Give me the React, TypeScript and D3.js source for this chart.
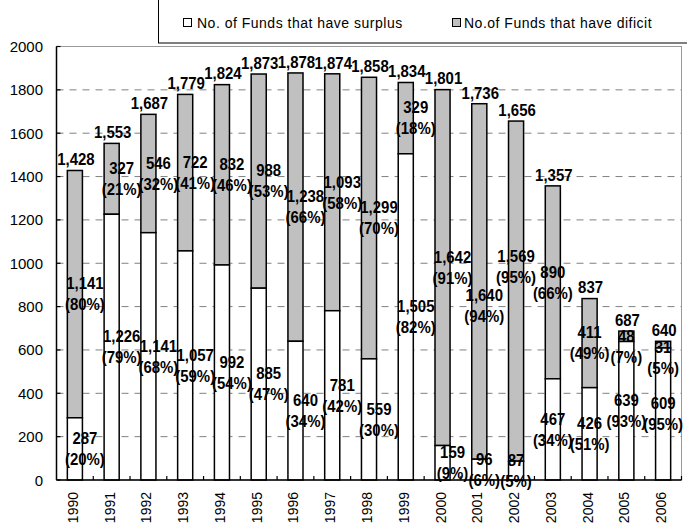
import React, { useEffect } from "react";
import * as d3 from "d3";

const years = ["1990", "1991", "1992", "1993", "1994", "1995", "1996", "1997", "1998", "1999", "2000", "2001", "2002", "2003", "2004", "2005", "2006"];
const surplus = [287, 1226, 1141, 1057, 992, 885, 640, 781, 559, 1505, 159, 96, 87, 467, 426, 639, 609];
const deficit = [1141, 327, 546, 722, 832, 988, 1238, 1093, 1299, 329, 1642, 1640, 1569, 890, 411, 48, 31];
const yTicks = [0, 200, 400, 600, 800, 1000, 1200, 1400, 1600, 1800, 2000];
const legendLabels = ["No. of Funds that have surplus", "No.of Funds that have dificit"];

const W = 687;
const H = 531;
const plot = { left: 56.5, right: 681.5, top: 46.5, bottom: 480 };
const GRAY = "#c0c0c0";
const LABEL_FONT = "'Liberation Sans', Arial, sans-serif";
const LABEL_SIZE = 17;
const LABEL_SCALE = 0.88;
const LINE_GAP = 21;
// value labels sit a little right of the bar on the left part of the chart
const labelShift = (i: number) => (i < 11 ? 10 : i === 11 ? 5 : 0);

const fmt = d3.format(",");

// rough bold glyph widths (em) for the label characters
const charW = (c: string) => (c === "," ? 0.278 : c === "(" || c === ")" ? 0.333 : c === "%" ? 0.889 : 0.556);
const textW = (s: string) => s.split("").reduce((a, c) => a + charW(c), 0) * LABEL_SIZE * LABEL_SCALE;

type Box = { x0: number; x1: number; y0: number; y1: number };
const hit = (a: Box, b: Box) => a.x0 < b.x1 && b.x0 < a.x1 && a.y0 < b.y1 && b.y0 < a.y1;

const BoldLabel = ({ x, y, lines }: { x: number; y: number; lines: string[] }) => (
  <g transform={`translate(${x},${y}) scale(${LABEL_SCALE},1)`}>
    {lines.map((t, i) => (
      <text
        key={i}
        x={0}
        y={(i - (lines.length - 1) / 2) * LINE_GAP}
        textAnchor="middle"
        dominantBaseline="central"
        fontFamily={LABEL_FONT}
        fontWeight="bold"
        fontSize={LABEL_SIZE}
        fill="#000"
      >
        {t}
      </text>
    ))}
  </g>
);

export default function App() {
  useEffect(() => {
    document.body.style.margin = "0";
  }, []);

  const x = d3.scaleBand<string>().domain(years).range([plot.left, plot.right]).padding(0);
  const y = d3.scaleLinear().domain([0, 2000]).range([plot.bottom, plot.top]);
  const step = x.step();
  const barW = step * 0.41;

  const rows = years.map((yr, i) => {
    const total = surplus[i] + deficit[i];
    const cx = (x(yr) as number) + step / 2;
    return {
      yr,
      s: surplus[i],
      d: deficit[i],
      total,
      cx,
      totalY: y(total) - 11,
      sLines: [fmt(surplus[i]), `(${Math.round((surplus[i] / total) * 100)}%)`],
      dLines: [fmt(deficit[i]), `(${Math.round((deficit[i] / total) * 100)}%)`],
    };
  });

  // place the two-line labels, nudging them up/down until they clear the others
  // (a few px of side contact is allowed, as in the original)
  const slack = 3;
  const placed: Box[] = rows.map((r) => {
    const hw = textW(fmt(r.total)) / 2 - slack;
    return { x0: r.cx + 1 - hw, x1: r.cx + 1 + hw, y0: r.totalY - 8, y1: r.totalY + 8 };
  });
  const place = (lx: number, cy: number, lines: string[], minY: number) => {
    const hw = Math.max(...lines.map(textW)) / 2 - slack;
    const boxAt = (c: number): Box => ({ x0: lx - hw, x1: lx + hw, y0: c - 18, y1: c + 18 });
    let c = Math.max(cy, minY);
    for (let k = 0; k <= 40; k++) {
      const dy = k === 0 ? 0 : (k % 2 ? -1 : 1) * Math.ceil(k / 2) * 4;
      const cand = Math.max(c + dy, minY);
      if (cand + 18 > H - 2) continue;
      const b = boxAt(cand);
      if (!placed.some((p) => hit(p, b))) {
        c = cand;
        break;
      }
    }
    placed.push(boxAt(c));
    return c;
  };
  const labels = rows.map((r, i) => {
    const lx = r.cx + labelShift(i);
    const defY = place(lx, y(r.s + r.d / 2), r.dLines, r.totalY + 27);
    const surY = place(lx, y(r.s / 2), r.sLines, defY + 38);
    return { lx, defY, surY };
  });

  return (
    <svg width={W} height={H} style={{ display: "block", background: "#fff" }}>
      {/* plot border */}
      <rect x={plot.left} y={plot.top} width={plot.right - plot.left} height={plot.bottom - plot.top} fill="#fff" stroke="#999" strokeWidth={1} />

      {/* gridlines */}
      {yTicks.filter((t) => t > 0 && t < 2000).map((t) => (
        <line key={t} x1={plot.left} x2={plot.right} y1={y(t)} y2={y(t)} stroke="#808080" strokeWidth={1} strokeDasharray="7,6" />
      ))}

      {/* bars */}
      {rows.map((r) => (
        <g key={r.yr}>
          <rect x={r.cx - barW / 2} y={y(r.total)} width={barW} height={y(r.s) - y(r.total)} fill={GRAY} stroke="#000" strokeWidth={1.5} />
          <rect x={r.cx - barW / 2} y={y(r.s)} width={barW} height={y(0) - y(r.s)} fill="#fff" stroke="#000" strokeWidth={1.5} />
        </g>
      ))}

      {/* axes */}
      <line x1={plot.left} x2={plot.left} y1={plot.top} y2={plot.bottom} stroke="#000" strokeWidth={1.5} />
      <line x1={plot.left} x2={plot.right} y1={plot.bottom} y2={plot.bottom} stroke="#000" strokeWidth={1.5} />
      {yTicks.map((t) => (
        <g key={t}>
          <line x1={plot.left} x2={plot.left + 4} y1={y(t)} y2={y(t)} stroke="#000" strokeWidth={1.2} />
          <text x={43} y={y(t)} textAnchor="end" dominantBaseline="central" fontFamily={LABEL_FONT} fontSize={15} fill="#000">
            {t}
          </text>
        </g>
      ))}
      {years.map((yr, i) => (
        <g key={yr}>
          <line x1={(x(yr) as number) + step} x2={(x(yr) as number) + step} y1={plot.bottom} y2={plot.bottom - 4} stroke="#000" strokeWidth={1.2} />
          <text
            transform={`translate(${rows[i].cx - 2},${492}) rotate(-90)`}
            textAnchor="end"
            dominantBaseline="central"
            fontFamily={LABEL_FONT}
            fontSize={14}
            fill="#000"
          >
            {yr}
          </text>
        </g>
      ))}

      {/* data labels */}
      {rows.map((r, i) => (
        <g key={r.yr + "l"}>
          <BoldLabel x={labels[i].lx} y={labels[i].surY} lines={r.sLines} />
          <BoldLabel x={labels[i].lx} y={labels[i].defY} lines={r.dLines} />
          <BoldLabel x={r.cx + 1} y={r.totalY} lines={[fmt(r.total)]} />
        </g>
      ))}

      {/* legend */}
      <rect x={158.5} y={-1} width={540} height={44} fill="#fff" stroke="#000" strokeWidth={1} />
      <rect x={183.5} y={18.5} width={8} height={8} fill="#fff" stroke="#000" strokeWidth={1} />
      <text x={197} y={23} dominantBaseline="central" fontFamily={LABEL_FONT} fontSize={14} letterSpacing={0.5} fill="#000">
        {legendLabels[0]}
      </text>
      <rect x={452.5} y={18.5} width={8} height={8} fill={GRAY} stroke="#000" strokeWidth={1} />
      <text x={464} y={23} dominantBaseline="central" fontFamily={LABEL_FONT} fontSize={14} letterSpacing={0.5} fill="#000">
        {legendLabels[1]}
      </text>
    </svg>
  );
}
